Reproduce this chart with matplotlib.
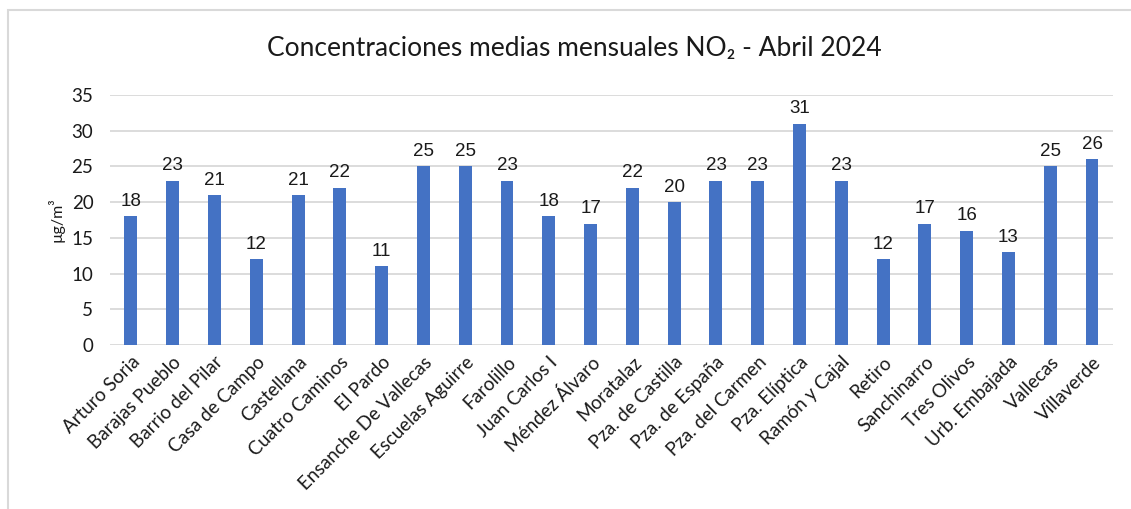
import matplotlib.pyplot as plt
from matplotlib.patches import Rectangle

plt.rcParams['font.family'] = ['Lato', 'DejaVu Sans']

# station names and monthly mean NO2 values (µg/m3)
stations = ["Arturo Soria", "Barajas Pueblo", "Barrio del Pilar", "Casa de Campo",
            "Castellana", "Cuatro Caminos", "El Pardo", "Ensanche De Vallecas",
            "Escuelas Aguirre", "Farolillo", "Juan Carlos I", "Méndez Álvaro",
            "Moratalaz", "Pza. de Castilla", "Pza. de España", "Pza. del Carmen",
            "Pza. Elíptica", "Ramón y Cajal", "Retiro", "Sanchinarro",
            "Tres Olivos", "Urb. Embajada", "Vallecas", "Villaverde"]
values = [18, 23, 21, 12, 21, 22, 11, 25, 25, 23, 18, 17,
          22, 20, 23, 23, 31, 23, 12, 17, 16, 13, 25, 26]
yticks = [0, 5, 10, 15, 20, 25, 30, 35]

fig = plt.figure(figsize=(11.31, 5.09), dpi=100)
ax = fig.add_axes([0.0973, 0.322, 0.8867, 0.4914])

x = range(len(stations))
bars = ax.bar(x, values, width=0.31, color='#4472C4', zorder=3)
for xi, v in zip(x, values):
    ax.text(xi, v + 0.9, str(v), ha='center', va='bottom',
            fontsize=13.5, family='Liberation Sans', color='#1a1a1a')

ax.set_xlim(-0.5, len(stations) - 0.5)
ax.set_ylim(0, 35)
ax.set_yticks(yticks)
ax.yaxis.grid(True, color='#D9D9D9', linewidth=1.3, zorder=0)
for s in ax.spines.values():
    s.set_visible(False)
ax.tick_params(axis='both', length=0, labelsize=13.5, colors='#1a1a1a')
ax.tick_params(axis='y', pad=12)
ax.set_xticks(list(x))
ax.set_xticklabels(stations, rotation=45, ha='right', rotation_mode='anchor')
ax.tick_params(axis='x', pad=6)

ax.set_ylabel('µg/m³', fontsize=11.5, color='#1a1a1a', labelpad=5)

fig.text(0.508, 0.905, 'Concentraciones medias mensuales NO₂ - Abril 2024',
         ha='center', va='center', fontsize=19, color='#1a1a1a')

# chart frame
fig.patches.append(Rectangle((8 / 1131, -0.1), 1.2, 1 - 10 / 509 + 0.1,
                             transform=fig.transFigure, fill=False,
                             edgecolor='#D9D9D9', linewidth=1.5))

fig.savefig('out.png', dpi=100)
